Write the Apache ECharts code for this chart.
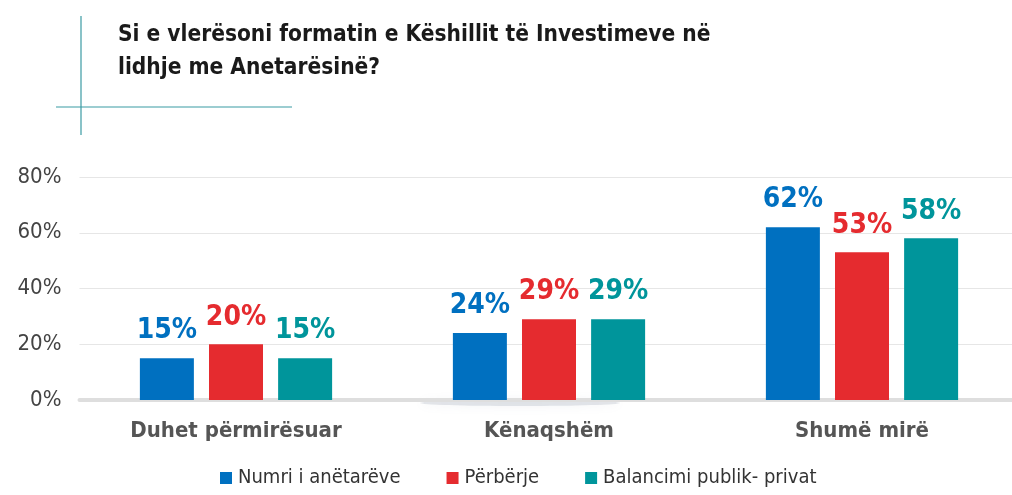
<!DOCTYPE html>
<html>
<head>
<meta charset="utf-8">
<script src="https://cdn.jsdelivr.net/npm/echarts@6/dist/echarts.min.js"></script>
<style>
  html, body { margin: 0; padding: 0; background: #fff; }
  #chart { width: 1012px; height: 495px; }
</style>
</head>
<body>
<div id="chart"></div>
<script>
// chart data
var categories = ['Duhet përmirësuar', 'Kënaqshëm', 'Shumë mirë'];
var seriesNames = ['Numri i anëtarëve', 'Përbërje', 'Balancimi publik- privat'];
var numriValues = [15, 24, 62];
var perberjeValues = [20, 29, 53];
var balancimiValues = [15, 29, 58];
var yTicks = [0, 20, 40, 60, 80];
var colors = ['#0070c0', '#e52b2f', '#00959b'];

var condensed = '"Liberation Sans Narrow", "DejaVu Sans Condensed", "Liberation Sans", sans-serif';

var myChart = echarts.init(document.getElementById('chart'));

function barSeries(name, data, color) {
  return {
    name: name,
    type: 'bar',
    barWidth: 54,
    barGap: '28%',
    data: data,
    itemStyle: { color: color },
    label: {
      show: true,
      position: 'top',
      distance: 13,
      formatter: '{c}%',
      color: color,
      fontFamily: condensed,
      fontWeight: 'bold',
      fontSize: 28
    }
  };
}

myChart.setOption({
  animation: false,
  textStyle: { fontFamily: condensed },
  title: {
    text: 'Si e vlerësoni formatin e Këshillit të Investimeve në\nlidhje me Anetarësinë?',
    left: 113,
    top: 14,
    textStyle: {
      fontFamily: condensed,
      fontWeight: 'bold',
      fontSize: 22.5,
      lineHeight: 33,
      color: '#1a1a1a'
    }
  },
  graphic: [
    { type: 'line', shape: { x1: 81, y1: 16, x2: 81, y2: 135 }, style: { stroke: '#3b9ba3', lineWidth: 1.2 } },
    { type: 'line', shape: { x1: 56, y1: 107, x2: 292, y2: 107 }, style: { stroke: '#3b9ba3', lineWidth: 1.2 } },
    {
      type: 'ellipse', z: 0,
      shape: { cx: 520, cy: 403, rx: 100, ry: 3 },
      style: {
        fill: 'rgba(150,160,175,0.25)',
        shadowBlur: 10,
        shadowColor: 'rgba(130,145,165,0.5)'
      }
    }
  ],
  legend: {
    bottom: 2,
    left: 215,
    itemWidth: 12,
    itemHeight: 12,
    itemGap: 46,
    icon: 'rect',
    textStyle: { fontFamily: condensed, fontSize: 20, color: '#333', padding: [0, 0, 0, 1] },
    data: seriesNames
  },
  grid: { left: 79.5, width: 939, top: 177, bottom: 95, outerBoundsMode: 'none', containLabel: false },
  xAxis: {
    type: 'category',
    data: categories,
    axisTick: { show: false },
    axisLine: { lineStyle: { color: '#dedede', width: 4 } },
    axisLabel: {
      margin: 20,
      fontFamily: condensed,
      fontWeight: 'bold',
      fontSize: 22,
      color: '#555'
    }
  },
  yAxis: {
    type: 'value',
    min: yTicks[0],
    max: yTicks[yTicks.length - 1],
    interval: 20,
    axisLine: { show: false },
    axisTick: { show: false },
    splitLine: { lineStyle: { color: '#e6e6e6', width: 1.2 } },
    axisLabel: {
      margin: 18,
      fontFamily: condensed,
      fontSize: 22,
      color: '#444',
      formatter: '{value}%'
    }
  },
  series: [
    barSeries(seriesNames[0], numriValues, colors[0]),
    barSeries(seriesNames[1], perberjeValues, colors[1]),
    barSeries(seriesNames[2], balancimiValues, colors[2])
  ]
});
</script>
</body>
</html>
